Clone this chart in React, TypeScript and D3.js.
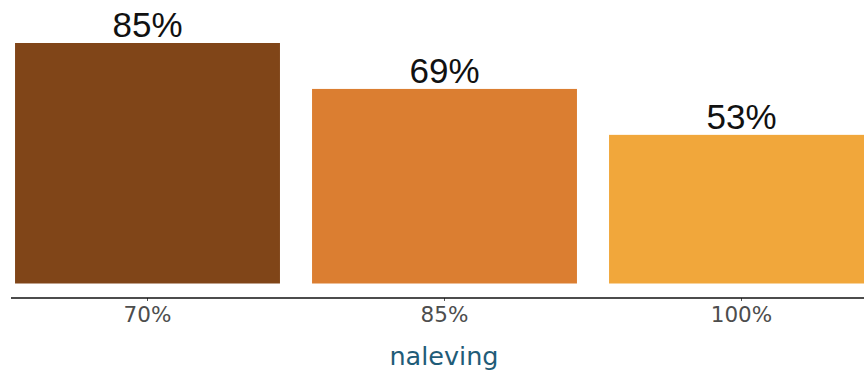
import React from "react";
import * as d3 from "d3";

const categories = ["70%", "85%", "100%"];
const values = [85, 69, 53];
const valueLabels = ["85%", "69%", "53%"];
const colors = ["#804518", "#db7e31", "#f1a73b"];
const axisTitle = "naleving";

const W = 864;
const H = 374;

export default function App() {
  const x = d3
    .scaleBand<string>()
    .domain(categories)
    .range([-1, 890])
    .paddingInner(0.108)
    .paddingOuter(0.054);
  const y = d3.scaleLinear().domain([0, 85]).range([287, 43]);
  const baseY = 283.5;
  const axisY = 298;

  return (
    <svg
      width={W}
      height={H}
      style={{ position: "fixed", left: 0, top: 0, background: "#fff" }}
    >
      {categories.map((c, i) => (
        <g key={c}>
          <rect
            x={x(c)}
            y={y(values[i])}
            width={x.bandwidth()}
            height={baseY - y(values[i])}
            fill={colors[i]}
          />
          <text
            x={(x(c) as number) + x.bandwidth() / 2}
            y={y(values[i]) - 6}
            textAnchor="middle"
            fontFamily="Liberation Sans, Arial, sans-serif"
            fontSize={35}
            fill="#111"
          >
            {valueLabels[i]}
          </text>
          <line
            x1={(x(c) as number) + x.bandwidth() / 2}
            x2={(x(c) as number) + x.bandwidth() / 2}
            y1={axisY}
            y2={axisY + 3}
            stroke="#555"
            strokeWidth={1}
          />
          <text
            x={(x(c) as number) + x.bandwidth() / 2}
            y={322}
            textAnchor="middle"
            fontFamily="DejaVu Sans, sans-serif"
            fontSize={21.5}
            fill="#4d4d4d"
          >
            {c}
          </text>
        </g>
      ))}
      <line x1={11} x2={W} y1={axisY} y2={axisY} stroke="#111" strokeWidth={1.5} />
      <text
        x={444}
        y={365}
        textAnchor="middle"
        fontFamily="DejaVu Sans, sans-serif"
        fontSize={25.5}
        fill="#1f5c78"
      >
        {axisTitle}
      </text>
    </svg>
  );
}
